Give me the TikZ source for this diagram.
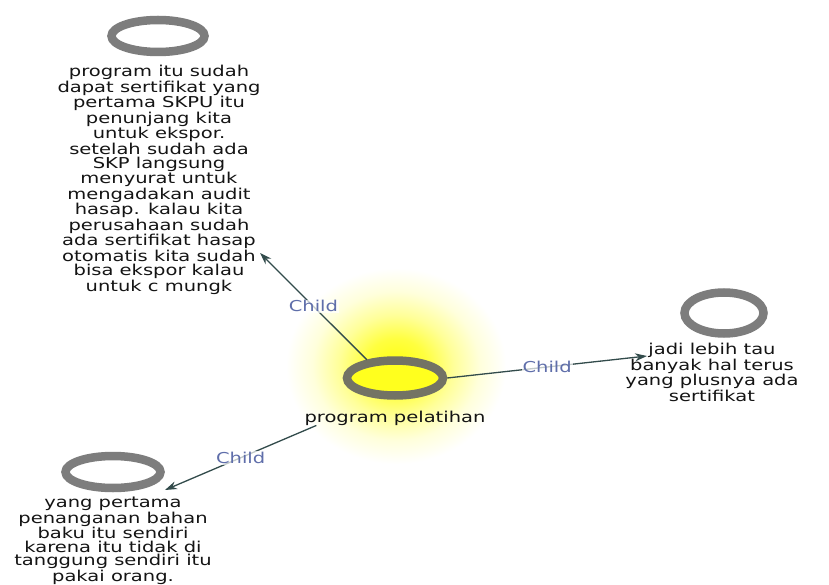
\documentclass[tikz,border=0pt]{standalone}
\usepackage{fontspec}
\usetikzlibrary{shapes.geometric,arrows.meta,calc}
\newfontfamily\dfont[FakeStretch=1.3]{DejaVu Sans}
\definecolor{ringgray}{RGB}{125,125,125}
\definecolor{ringcenter}{RGB}{115,115,100}
\definecolor{edgecol}{RGB}{50,75,75}
\definecolor{labcol}{RGB}{95,110,170}
\definecolor{txtcol}{RGB}{20,20,20}
\definecolor{coreyellow}{RGB}{255,255,30}
\pgfdeclareradialshading{glow}{\pgfpoint{0bp}{0bp}}{color(0bp)=(yellow!95); color(7bp)=(yellow!75); color(13bp)=(yellow!40); color(19bp)=(yellow!14); color(25bp)=(white); color(50bp)=(white)}
\begin{document}
\begin{tikzpicture}[x=1pt,y=-1pt,
  ring/.style={ellipse, draw=ringgray, line width=8.5pt, inner sep=0pt},
  txt/.style={font=\dfont\fontsize{15}{14.2}\selectfont, text=txtcol, align=center, inner sep=0pt, anchor=north},
  edge/.style={draw=edgecol, line width=1.3pt, -{Stealth[length=12pt,width=8pt]}},
  lab/.style={font=\dfont\fontsize{15}{14.2}\selectfont, text=labcol, fill=white, fill opacity=0.7, text opacity=1, inner sep=1pt}]
\useasboundingbox (0,0) rectangle (829,585);
\fill[white] (0,0) rectangle (829,585);
\shade[shading=glow] (396,366) ellipse [x radius=110, y radius=98];
% centre
\node[ring, fill=coreyellow, draw=ringcenter, minimum width=96pt, minimum height=35pt] (cring) at (395,378) {};
\node[txt, anchor=center] (clabel) at (395,418) {program pelatihan};
% top
\node[ring, minimum width=93pt, minimum height=32pt] (tring) at (158,36) {};
\node[txt] (ttext) at (159,65) {program itu sudah\\dapat sertifikat yang\\pertama SKPU itu\\penunjang kita\\untuk ekspor.\\setelah sudah ada\\SKP langsung\\menyurat untuk\\mengadakan audit\\hasap. kalau kita\\perusahaan sudah\\ada sertifikat hasap\\otomatis kita sudah\\bisa ekspor kalau\\untuk c mungk};
% right
\node[ring, minimum width=79pt, minimum height=41pt] (rring) at (724,313) {};
\node[txt] (rtext) at (712,343) {jadi lebih tau\\banyak hal terus\\yang plusnya ada\\sertifikat};
% bottom left
\node[ring, minimum width=95pt, minimum height=32pt] (blring) at (113,472) {};
\node[txt, font=\dfont\fontsize{15}{13.4}\selectfont] (bltext) at (113,497) {yang pertama\\penanganan bahan\\baku itu sendiri\\karena itu tidak di\\tanggung sendiri itu\\pakai orang.};
% arrow tips
\coordinate (ttip) at (260,253);
\coordinate (rtip) at (647,356);
\coordinate (bltip) at (165,490);
% connectors
\draw[edge] (cring.147) -- node[lab]{Child} (ttip);
\draw[edge] (cring.0) -- node[lab]{Child} (rtip);
\draw[edge] ($(clabel.south west)+(12,0)$) -- node[lab]{Child} (bltip);
\end{tikzpicture}
\end{document}
